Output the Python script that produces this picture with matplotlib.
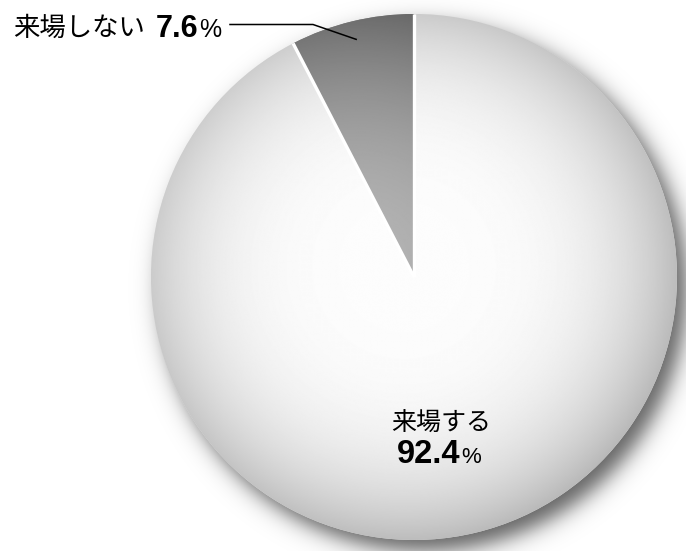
import numpy as np
import matplotlib
matplotlib.use("Agg")
import matplotlib.pyplot as plt

labels = ["来場しない", "来場する"]
values = [7.6, 92.4]
pct_text = ["7.6", "92.4"]

W, H = 686, 551
cx, cy, r = 414, H - 277, 263

jp = ["Noto Sans CJK JP", "DejaVu Sans"]
lat = ["Liberation Sans", "DejaVu Sans"]

fig = plt.figure(figsize=(W / 100, H / 100), dpi=100)
ax = fig.add_axes([0, 0, 1, 1])
ax.set_xlim(0, W)
ax.set_ylim(0, H)

# soft drop shadow to the lower right
yy, xx = np.mgrid[0:H, 0:W] + 0.5
d = np.hypot(xx - (cx + 10), yy - (cy - 11))
a = 0.62 * 0.5 * (1 - np.tanh((d - r) / 13.0))
shadow = np.zeros((H, W, 4))
shadow[..., 3] = a
ax.imshow(shadow, extent=(0, W, 0, H), origin="lower", zorder=1, interpolation="bilinear")

wedges, _ = ax.pie(values, startangle=90, counterclock=True, center=(cx, cy), radius=r,
                   colors=["#808080", "#e0e0e0"], wedgeprops=dict(linewidth=0), frame=True)

# gradient fills clipped to each wedge
gy, gx = np.mgrid[cy - r:cy + r:600j, cx - r:cx + r:600j]
dd = np.hypot(gx - (cx - 10), gy - (cy + 10)) / r
big = np.clip(0.99 - 0.22 * dd ** 3.5, 0, 1)
small = np.clip(0.69 - 0.3 * dd ** 2 + 0.0004 * (cx - gx), 0, 1)
for w, g in zip(wedges, [small, big]):
    w.set_zorder(2)
    im = ax.imshow(g, cmap="gray", vmin=0, vmax=1, extent=(cx - r, cx + r, cy - r, cy + r),
                   origin="lower", zorder=3, interpolation="bilinear")
    im.set_clip_path(w)

# white separators
angs = sorted(set(round(t, 4) % 360 for w in wedges for t in (w.theta1, w.theta2)))
for t in angs:
    ax.plot([cx, cx + r * np.cos(np.radians(t))], [cy, cy + r * np.sin(np.radians(t))],
            color="white", lw=2.4, zorder=4, solid_capstyle="butt")

# leader line for the small slice
w0 = wedges[0]
mid = np.radians((w0.theta1 + w0.theta2) / 2)
px, py = cx + 0.93 * r * np.cos(mid), cy + 0.93 * r * np.sin(mid)
ax.plot([230, 313, px], [H - 24.5, H - 24.5, py], color="black", lw=1.1, zorder=5)

# labels
fig.canvas.draw()
rend = fig.canvas.get_renderer()


def pct_label(x, y, num, size_num, size_pct):
    t = ax.text(x, y, num, fontsize=size_num, fontweight="bold", family=lat,
                ha="left", va="baseline", zorder=6)
    bb = t.get_window_extent(rend).transformed(ax.transData.inverted())
    ax.text(bb.x1 + 1, y, "%", fontsize=size_pct, family=lat,
            ha="left", va="baseline", zorder=6)


ax.text(13, H - 36, labels[0], fontsize=19, family=jp, ha="left", va="baseline", zorder=6)
pct_label(156, H - 37, pct_text[0], 22, 18)

ax.text(391, H - 431, labels[1], fontsize=18, family=jp, ha="left", va="baseline", zorder=6)
pct_label(397, H - 463, pct_text[1], 23.5, 16)

ax.set_xlim(0, W)
ax.set_ylim(0, H)
ax.set_aspect("auto")
ax.axis("off")

fig.savefig("out.png", dpi=100)
